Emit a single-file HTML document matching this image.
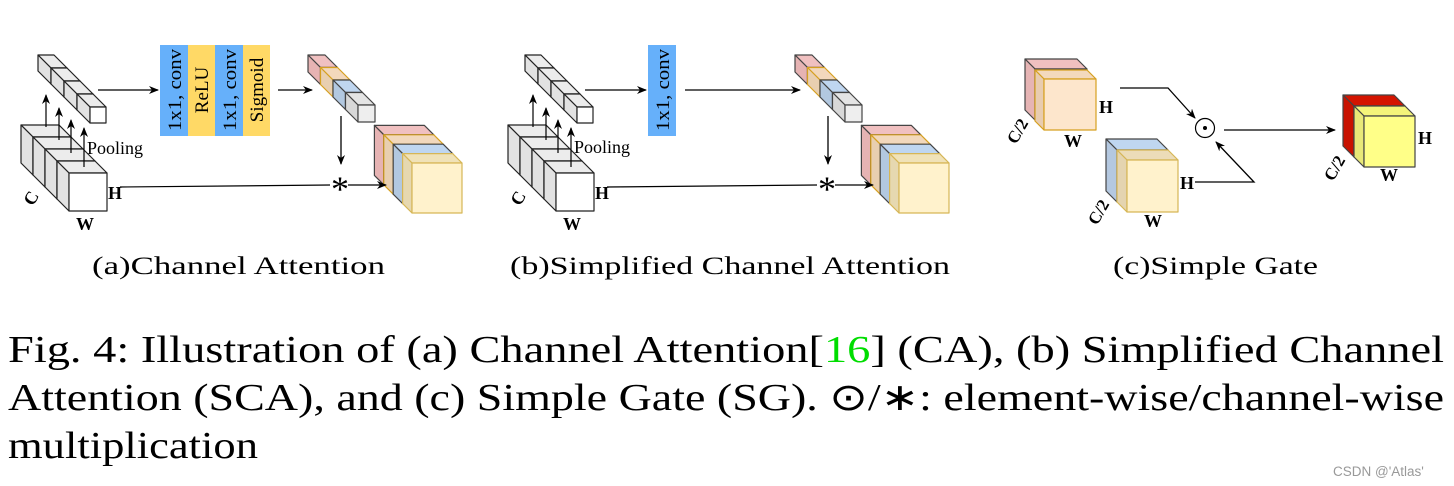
<!DOCTYPE html>
<html><head><meta charset="utf-8"><style>
html,body{margin:0;padding:0;background:#fff;width:1454px;height:486px;overflow:hidden}
svg{display:block}
</style></head><body>
<svg id="s" width="1454" height="486" viewBox="0 0 1454 486" xmlns="http://www.w3.org/2000/svg" font-family="'Liberation Serif', serif">
<defs><marker id="ar" markerWidth="10" markerHeight="8" refX="9" refY="4" orient="auto" markerUnits="userSpaceOnUse"><path d="M0,0 L10,4 L0,8 L3,4 Z" fill="#000"/></marker></defs>
<g id="cubes"></g>
<rect x="160" y="45" width="28" height="91" fill="#66b0fa"/>
<rect x="188" y="45" width="27" height="91" fill="#ffd966"/>
<rect x="215" y="45" width="28" height="91" fill="#66b0fa"/>
<rect x="243" y="45" width="27" height="91" fill="#ffd966"/>
<g font-size="19" text-anchor="middle">
<text transform="translate(181,90) rotate(-90)" textLength="82" lengthAdjust="spacingAndGlyphs">1x1, conv</text>
<text transform="translate(208,90) rotate(-90)">ReLU</text>
<text transform="translate(236,90) rotate(-90)" textLength="82" lengthAdjust="spacingAndGlyphs">1x1, conv</text>
<text transform="translate(263,90) rotate(-90)">Sigmoid</text>
</g>
<rect x="648" y="45" width="28" height="91" fill="#66b0fa"/>
<text transform="translate(669,90) rotate(-90)" font-size="19" text-anchor="middle" textLength="82" lengthAdjust="spacingAndGlyphs">1x1, conv</text>
<g stroke="#000" stroke-width="1.3" fill="none" marker-end="url(#ar)">
<line x1="98" y1="90" x2="158" y2="90"/>
<line x1="278" y1="90" x2="312" y2="90"/>
<line x1="341" y1="116" x2="341" y2="164"/>
<line x1="348" y1="185" x2="386" y2="185"/>
<line x1="585" y1="90" x2="646" y2="90"/>
<line x1="685" y1="90" x2="800" y2="90"/>
<line x1="828" y1="116" x2="828" y2="164"/>
<line x1="835" y1="185" x2="873" y2="185"/>
<polyline points="1120,88 1168,88 1195,118"/>
<polyline points="1195,182 1254,182 1216,142"/>
<line x1="1224" y1="130" x2="1335" y2="130"/>
</g>
<g stroke="#000" stroke-width="1.2" fill="none">
<line x1="120" y1="187" x2="330" y2="185"/>
<line x1="607" y1="187" x2="817" y2="185"/>
</g>
<circle cx="1205" cy="128" r="9.5" fill="none" stroke="#000" stroke-width="1.2"/>
<circle cx="1205" cy="128" r="2" fill="#000"/>
<g font-size="36" text-anchor="middle"><text x="340" y="201">*</text><text x="827" y="201">*</text></g>
<g id="pool"></g>
<g font-size="18"><text x="87" y="154">Pooling</text><text x="574" y="153">Pooling</text></g>
<g font-weight="bold" font-size="18">
<text x="108" y="199">H</text><text x="76" y="230">W</text><text x="24" y="205" transform="rotate(-60 30 198)">C</text>
<text x="595" y="199">H</text><text x="563" y="230">W</text><text x="511" y="205" transform="rotate(-60 517 198)">C</text>
<text x="1099" y="113">H</text><text x="1064" y="147">W</text><text transform="translate(1016,145) rotate(-60)" font-size="17">C/2</text>
<text x="1180" y="189">H</text><text x="1144" y="227">W</text><text transform="translate(1097,226) rotate(-60)" font-size="17">C/2</text>
<text x="1418" y="144">H</text><text x="1380" y="181">W</text><text transform="translate(1333,182) rotate(-60)" font-size="17">C/2</text>
</g>
<g font-size="25">
<text x="92" y="274" textLength="293" lengthAdjust="spacingAndGlyphs">(a)Channel Attention</text>
<text x="510" y="274" textLength="440" lengthAdjust="spacingAndGlyphs">(b)Simplified Channel Attention</text>
<text x="1113" y="274" textLength="205" lengthAdjust="spacingAndGlyphs">(c)Simple Gate</text>
</g>
<g font-size="38">
<text x="8" y="362" textLength="1436" lengthAdjust="spacingAndGlyphs">Fig. 4: Illustration of (a) Channel Attention[<tspan fill="#00dd00">16</tspan>] (CA), (b) Simplified Channel</text>
<text x="8" y="410" textLength="1436" lengthAdjust="spacingAndGlyphs">Attention (SCA), and (c) Simple Gate (SG). ⊙/∗: element-wise/channel-wise</text>
<text x="8" y="458" textLength="250" lengthAdjust="spacingAndGlyphs">multiplication</text>
</g>
<text x="1333" y="476" font-family="'Liberation Sans', sans-serif" font-size="13.5" fill="#999">CSDN @'Atlas'</text>
</svg>
<script>
var NS="http://www.w3.org/2000/svg",g=document.getElementById('cubes'),pg=document.getElementById('pool');
function poly(p,f,s,par){var e=document.createElementNS(NS,'polygon');e.setAttribute('points',p.map(function(q){return q.join(',')}).join(' '));e.setAttribute('fill',f);e.setAttribute('stroke',s);e.setAttribute('stroke-width','1.2');e.setAttribute('stroke-linejoin','round');(par||g).appendChild(e);}
function cube(x,y,w,h,d,front,top,side,st){
poly([[x,y],[x+w,y],[x+w-d,y-d],[x-d,y-d]],top,st);
poly([[x,y],[x-d,y-d],[x-d,y+h-d],[x,y+h]],side,st);
poly([[x,y],[x+w,y],[x+w,y+h],[x,y+h]],front,st);}
var C={gray:['#fff','#ececec','#e2e2e2','#222'],pink:['#f2c4c4','#f0c0c0','#e6b3b3','#444'],or:['#f5dcc0','#f2d8bc','#e8cfb0','#d6a020'],bl:['#c4d8ee','#bfd6f0','#b2c8e0','#444'],gr:['#eeeeee','#e4e4e4','#d8d8d8','#444'],ye:['#fff2cc','#f0e2b8','#e6d8b0','#d6b656']};
function stack(fx,fy,sz,step,n,cols,dx){for(var k=0;k<n;k++){var c=cols[k];cube(fx-step*(n-1-k)+dx,fy-step*(n-1-k),sz,sz,step,c[0],c[1],c[2],c[3]);}}
[0,487].forEach(function(dx){
 stack(69,173,38,12,4,[C.gray,C.gray,C.gray,C.gray],dx);
 stack(90,107,16,13,4,[C.gray,C.gray,C.gray,C.gray],dx);
 stack(358,105,17,12.5,4,[C.pink,C.or,C.bl,C.gr],dx);
 stack(412,163,50,9.4,4,[C.pink,C.or,C.bl,C.ye],dx);
 [[46,127,95],[59,140,108],[71,153,120],[84,167,128]].forEach(function(a){var l=document.createElementNS(NS,'line');l.setAttribute('x1',a[0]+dx);l.setAttribute('x2',a[0]+dx);l.setAttribute('y1',a[1]);l.setAttribute('y2',a[2]);l.setAttribute('stroke','#000');l.setAttribute('stroke-width','1.2');l.setAttribute('marker-end','url(#ar)');pg.appendChild(l);});
});
cube(1035,69,52,51,10,'#f0c0c0','#f0c0c0','#e6b4b4','#444');
cube(1044,79,52,51,9,'#fde6cc','#f3d9bd','#e8ccb0','#d6a020');
cube(1117,150,51,52,11,'#bfd6f0','#bfd6f0','#b4c8e0','#444');
cube(1127,160,51,52,10,'#fff2cc','#ecdcb8','#e4d4b0','#d6b656');
cube(1354,106,51,51,11,'#d41400','#d41400','#c81200','#444');
cube(1364,116,51,51,10,'#ffff88','#f4f47a','#e8e878','#444');
</script>
</body></html>
